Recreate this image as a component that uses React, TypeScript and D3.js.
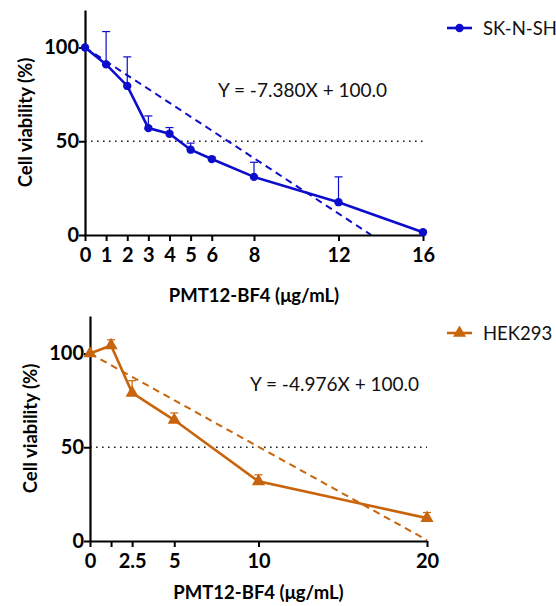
import React, { useEffect, useRef } from "react";
import * as d3 from "d3";

// SK-N-SH (top panel)
const topDose = [0, 1, 2, 3, 4, 5, 6, 8, 12, 16];
const topMean = [100, 91, 79.5, 57, 54, 45.5, 40.5, 31, 17.5, 1.5];
const topSd = [0, 17.5, 15.5, 6.5, 3.3, 3.5, 1, 7.8, 13.5, 0];
const topTicks = [0, 1, 2, 3, 4, 5, 6, 8, 12, 16];
const topSlope = -7.38;

// HEK293 (bottom panel)
const botDose = [0, 1.25, 2.5, 5, 10, 20];
const botMean = [100, 104.3, 79, 64.5, 31.8, 12.2];
const botSd = [0, 3, 6.5, 3.8, 3.5, 3];
const botTicks = [0, 1.25, 2.5, 5, 10, 20];
const botTickLabels = ["0", "", "2.5", "5", "10", "20"];
const botSlope = -4.976;

const yTicks = [0, 50, 100];
const FONT = "Lato, 'Open Sans', sans-serif";

const App = () => {
  const svgRef = useRef<SVGSVGElement>(null);

  useEffect(() => {
    const svg = d3.select(svgRef.current);
    svg.selectAll("*").remove();
    svg.attr("width", 556).attr("height", 606).style("font-family", FONT);

    const drawPanel = (opts: any) => {
      const { left, right, top, bottom, xMax, dose, mean, sd, ticks, tickLabels, slope, color, marker, name, eq, eqX, eqY, legY, titleY } = opts;
      const x = d3.scaleLinear().domain([0, xMax]).range([left, right]);
      const y = d3.scaleLinear().domain([0, 120]).range([bottom, top]);
      const g = svg.append("g");

      // 50% dotted reference
      g.append("line")
        .attr("x1", x(0)).attr("x2", x(xMax))
        .attr("y1", y(50)).attr("y2", y(50))
        .attr("stroke", "#222").attr("stroke-width", 1.6)
        .attr("stroke-dasharray", "1.6,4.4");

      // regression (dashed)
      const xEnd = Math.min(xMax, -100 / slope);
      g.append("line")
        .attr("x1", x(0)).attr("y1", y(100))
        .attr("x2", x(xEnd)).attr("y2", y(100 + slope * xEnd))
        .attr("stroke", color).attr("stroke-width", 2)
        .attr("stroke-dasharray", "7,5");

      // axes
      const xAxis = g.append("g")
        .attr("transform", `translate(0,${bottom})`)
        .call(d3.axisBottom(x).tickValues(ticks).tickSize(6).tickSizeOuter(0)
          .tickFormat((d: any, i: number) => (tickLabels ? tickLabels[i] : String(d))));
      xAxis.select(".domain").attr("stroke", "#000").attr("stroke-width", 2.2);
      xAxis.selectAll(".tick line").attr("stroke", "#000").attr("stroke-width", 2);
      xAxis.selectAll(".tick text")
        .attr("y", 13).attr("fill", "#000")
        .style("font-size", "20px").style("font-weight", "bold").style("font-family", FONT);

      const yAxis = g.append("g")
        .attr("transform", `translate(${left},0)`)
        .call(d3.axisLeft(y).tickValues(yTicks).tickSize(6).tickSizeOuter(0));
      yAxis.select(".domain").attr("stroke", "#000").attr("stroke-width", 2.2);
      yAxis.selectAll(".tick line").attr("stroke", "#000").attr("stroke-width", 2);
      yAxis.selectAll(".tick text")
        .attr("x", -6).attr("fill", "#000")
        .style("font-size", "20px").style("font-weight", "bold").style("font-family", FONT);

      // error bars (upper only)
      dose.forEach((d: number, i: number) => {
        if (!sd[i]) return;
        const cx = x(d);
        const yt = y(mean[i] + sd[i]);
        g.append("line").attr("x1", cx).attr("x2", cx).attr("y1", y(mean[i])).attr("y2", yt)
          .attr("stroke", color).attr("stroke-width", 1.2);
        g.append("line").attr("x1", cx - 4).attr("x2", cx + 4).attr("y1", yt).attr("y2", yt)
          .attr("stroke", color).attr("stroke-width", 1.2);
      });

      // data line
      const line = d3.line<number>().x((d, i) => x(dose[i])).y((d) => y(d));
      g.append("path").datum(mean).attr("d", line as any)
        .attr("fill", "none").attr("stroke", color).attr("stroke-width", 2.6);

      const sym = marker === "circle"
        ? d3.symbol().type(d3.symbolCircle).size(55)
        : d3.symbol().type(d3.symbolTriangle).size(75);
      g.selectAll("path.pt").data(mean).enter().append("path")
        .attr("class", "pt")
        .attr("d", sym() as string)
        .attr("transform", (d: number, i: number) => `translate(${x(dose[i])},${y(d)})`)
        .attr("fill", color);

      // equation
      g.append("text").attr("x", eqX).attr("y", eqY)
        .attr("fill", "#111").style("font-size", "19px").text(eq);

      // axis titles
      g.append("text")
        .attr("x", (left + x(xMax)) / 2).attr("y", titleY)
        .attr("text-anchor", "middle").attr("fill", "#000")
        .style("font-size", "18.5px").style("font-weight", "bold")
        .text("PMT12-BF4 (μg/mL)");
      g.append("text")
        .attr("transform", `translate(${left - 53},${(top + bottom) / 2}) rotate(-90)`)
        .attr("text-anchor", "middle").attr("fill", "#000")
        .style("font-size", "18.5px").style("font-weight", "bold")
        .text("Cell viability (%)");

      // legend
      g.append("line").attr("x1", 447).attr("x2", 472).attr("y1", legY).attr("y2", legY)
        .attr("stroke", color).attr("stroke-width", 2.6);
      g.append("path").attr("d", sym() as string)
        .attr("transform", `translate(459.5,${legY})`).attr("fill", color);
      g.append("text").attr("x", 483).attr("y", legY + 6.5)
        .attr("fill", "#111").style("font-size", "18.5px").text(name);
    };

    drawPanel({
      left: 85, right: 423, top: 10, bottom: 235, xMax: 16,
      dose: topDose, mean: topMean, sd: topSd, ticks: topTicks, tickLabels: null,
      slope: topSlope, color: "#0c0ccc", marker: "circle", name: "SK-N-SH",
      eq: "Y = -7.380X + 100.0", eqX: 218, eqY: 97, legY: 28, titleY: 302,
    });

    drawPanel({
      left: 90, right: 427, top: 316, bottom: 541, xMax: 20,
      dose: botDose, mean: botMean, sd: botSd, ticks: botTicks, tickLabels: botTickLabels,
      slope: botSlope, color: "#c8650c", marker: "triangle", name: "HEK293",
      eq: "Y = -4.976X + 100.0", eqX: 250, eqY: 391, legY: 333, titleY: 599,
    });
  }, []);

  return <svg ref={svgRef} style={{ display: "block", position: "absolute", left: 0, top: 0 }}></svg>;
};

export default App;
